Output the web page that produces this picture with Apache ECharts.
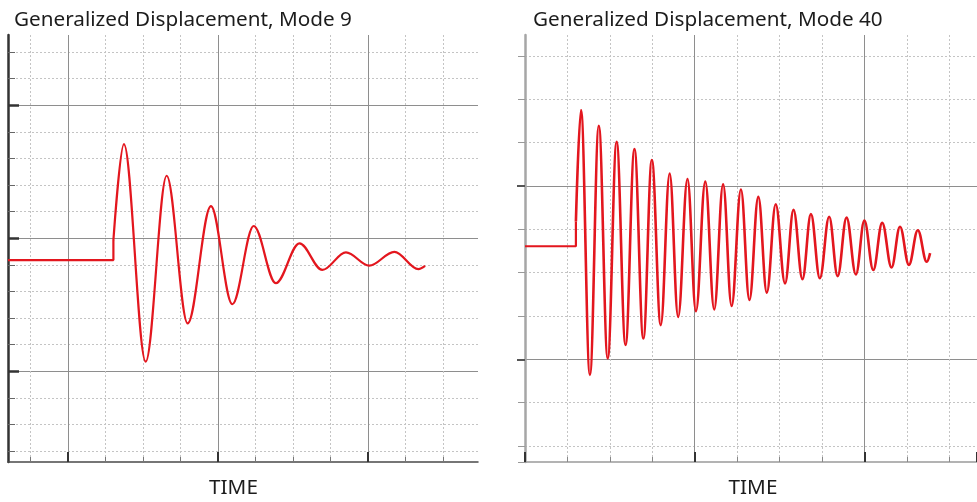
<!DOCTYPE html>
<html>
<head>
<meta charset="utf-8">
<title>Generalized Displacement</title>
<script src="https://cdn.jsdelivr.net/npm/echarts@6/dist/echarts.min.js"></script>
<style>
  html, body { margin: 0; padding: 0; background: #fff; }
  #chart { width: 977px; height: 502px; }
</style>
</head>
<body>
<div id="chart"></div>
<script>
// Mode 9 trace: time in minor grid steps (0 = first major line), displacement in minor grid steps
// first three points = flat part + step, the rest is the oscillation (peaks / troughs)
const mode9Time = [-1.6, 1.21, 1.21, 1.49, 2.07, 2.63, 3.19, 3.81, 4.38, 4.95, 5.54, 6.17, 6.78, 7.41, 8.03, 8.70, 9.34, 9.52]
const mode9Disp = [-0.83, -0.83, -0.08, 3.53, -4.65, 2.34, -3.21, 1.20, -2.49, 0.45, -1.70, -0.20, -1.20, -0.54, -1.04, -0.52, -1.17, -1.05]

// Mode 40 trace, same idea (0 = left edge, 0 disp = upper major line)
const mode40Time = [0, 1.20, 1.20, 1.32, 1.53, 1.74, 1.95, 2.16, 2.37, 2.58, 2.79, 2.99, 3.20, 3.41, 3.61, 3.83, 4.03,
  4.25, 4.46, 4.67, 4.87, 5.09, 5.29, 5.50, 5.70, 5.91, 6.13, 6.33, 6.54, 6.74, 6.95, 7.17, 7.37, 7.58, 7.80,
  8.00, 8.21, 8.42, 8.64, 8.84, 9.05, 9.26, 9.47, 9.55]
const mode40Disp = [-1.39, -1.39, -0.82, 1.75, -4.36, 1.39, -3.98, 1.02, -3.67, 0.85, -3.52, 0.60, -3.21, 0.29, -3.02,
  0.16, -2.89, 0.10, -2.85, 0.04, -2.77, -0.08, -2.63, -0.25, -2.46, -0.42, -2.25, -0.55, -2.15, -0.65, -2.13,
  -0.71, -2.08, -0.73, -2.04, -0.80, -1.94, -0.85, -1.88, -0.94, -1.82, -1.02, -1.75, -1.55]

const chartTitles = ['Generalized Displacement, Mode 9', 'Generalized Displacement, Mode 40']
const axisTitle = 'TIME'

const RED = '#e3161e'
const FONT = 'Noto Sans'

const pairs = (t, d) => t.map((x, i) => [x, d[i]])
const m9 = pairs(mode9Time, mode9Disp)
const m40 = pairs(mode40Time, mode40Disp)

const dotted = { show: true, lineStyle: { color: '#c4c4c4', width: 1, type: [2, 2] } }
const solid = { show: true, lineStyle: { color: '#8e8e8e', width: 1 } }
const hidden = (gridIndex) => ({ type: 'value', gridIndex, show: false, min: 0, max: 1 })
const noLine = { show: false, onZero: false }

// grids: data rect + helper rects whose edges sit on grid lines
const grids = [
  { left: 8, right: 499, top: 35, bottom: 40 },      // 0 left data
  { left: 30.5, right: 534, top: 35, bottom: 40 },   // 1 left minor verticals
  { left: 68, right: 609, top: 35, bottom: 40 },     // 2 left major verticals
  { left: 8, right: 499, top: 52, bottom: 51 },      // 3 left minor horizontals
  { left: 8, right: 499, top: 105, bottom: 131 },    // 4 left major horizontals
  { left: 525, right: 0, top: 35, bottom: 40 },      // 5 right data + verticals
  { left: 525, right: 0, top: 56, bottom: 40 },      // 6 right minor horizontals
  { left: 525, right: 0, top: 186, bottom: 142.7 }   // 7 right major horizontals
]

const xAxes = [
  { type: 'value', gridIndex: 0, position: 'bottom', min: -1.6, max: 10.93,
    axisLine: { show: true, onZero: false, lineStyle: { color: '#4a4a4a', width: 1.5 } },
    axisTick: { show: false }, axisLabel: { show: false }, splitLine: { show: false } },
  { type: 'value', gridIndex: 1, position: 'bottom', min: 0, max: 11, interval: 1,
    axisLine: noLine, axisLabel: { show: false },
    axisTick: { show: true, inside: true, length: 5, lineStyle: { color: '#777' } }, splitLine: dotted },
  { type: 'value', gridIndex: 2, position: 'bottom', min: 0, max: 2, interval: 1,
    axisLine: noLine, axisLabel: { show: false },
    axisTick: { show: true, inside: true, length: 10, lineStyle: { color: '#333', width: 2 } }, splitLine: solid },
  hidden(3),
  hidden(4),
  { type: 'value', gridIndex: 5, position: 'bottom', min: 0, max: 10.655, interval: 1,
    axisLine: { show: true, onZero: false, lineStyle: { color: '#9a9a9a', width: 1.5 } }, axisLabel: { show: false },
    axisTick: { show: true, inside: true, length: 5, lineStyle: { color: '#888' } }, splitLine: dotted },
  { type: 'value', gridIndex: 5, position: 'bottom', min: 0, max: 10.655, interval: 4,
    axisLine: noLine, axisLabel: { show: false },
    axisTick: { show: true, inside: true, length: 10, lineStyle: { color: '#333', width: 2 } }, splitLine: solid },
  hidden(6),
  hidden(7)
]

const yAxes = [
  { type: 'value', gridIndex: 0, position: 'left', min: -8.42, max: 7.63,
    axisLine: { show: true, onZero: false, lineStyle: { color: '#333', width: 2.5 } },
    axisTick: { show: false }, axisLabel: { show: false }, splitLine: { show: false } },
  hidden(1),
  hidden(2),
  { type: 'value', gridIndex: 3, position: 'left', inverse: true, min: 0, max: 15, interval: 1,
    axisLine: noLine, axisLabel: { show: false },
    axisTick: { show: true, inside: true, length: 7, lineStyle: { color: '#666' } }, splitLine: dotted },
  { type: 'value', gridIndex: 4, position: 'left', inverse: true, min: 0, max: 2, interval: 1,
    axisLine: noLine, axisLabel: { show: false },
    axisTick: { show: true, inside: true, length: 11, lineStyle: { color: '#333', width: 2.5 } }, splitLine: solid },
  { type: 'value', gridIndex: 5, position: 'left', min: -6.37, max: 3.485,
    axisLine: { show: true, onZero: false, lineStyle: { color: '#a6a6a6', width: 2.5 } },
    axisTick: { show: false }, axisLabel: { show: false }, splitLine: { show: false } },
  { type: 'value', gridIndex: 6, position: 'left', inverse: true, min: 0, max: 9.37, interval: 1,
    axisLine: noLine, axisLabel: { show: false },
    axisTick: { show: true, inside: false, length: 7, lineStyle: { color: '#999' } },
    splitLine: Object.assign({ showMaxLine: false }, dotted) },
  { type: 'value', gridIndex: 7, position: 'left', inverse: true, min: 0, max: 1, interval: 1,
    axisLine: noLine, axisLabel: { show: false },
    axisTick: { show: true, inside: false, length: 8, lineStyle: { color: '#555', width: 2 } }, splitLine: solid }
]

const lineSeries = (data, axis, smooth, width) => ({
  type: 'line', xAxisIndex: axis, yAxisIndex: axis, data,
  showSymbol: false, smooth, smoothMonotone: smooth ? 'x' : undefined,
  lineStyle: { color: RED, width }, silent: true, clip: false
})

const titleStyle = { fontFamily: FONT, fontSize: 20.7, fontWeight: 'normal', color: '#1c1c1c' }

const option = {
  animation: false,
  backgroundColor: '#fff',
  title: [
    { text: chartTitles[0], left: 14, top: 20.5, padding: 0, textAlign: 'left', textVerticalAlign: 'middle', textStyle: titleStyle },
    { text: chartTitles[1], left: 533, top: 20.5, padding: 0, textAlign: 'left', textVerticalAlign: 'middle', textStyle: titleStyle },
    { text: axisTitle, left: 233.5, top: 488.5, padding: 0, textAlign: 'center', textVerticalAlign: 'middle', textStyle: titleStyle },
    { text: axisTitle, left: 753, top: 488.5, padding: 0, textAlign: 'center', textVerticalAlign: 'middle', textStyle: titleStyle }
  ],
  grid: grids,
  xAxis: xAxes,
  yAxis: yAxes,
  series: [
    lineSeries(m9.slice(0, 3), 0, false, 2.2),
    lineSeries(m9.slice(2), 0, 0.35, 2.2),
    lineSeries(m40.slice(0, 3), 5, false, 2.2),
    lineSeries(m40.slice(2), 5, 0.38, 2.6)
  ]
}

const chart = echarts.init(document.getElementById('chart'))
chart.setOption(option)
</script>
</body>
</html>
